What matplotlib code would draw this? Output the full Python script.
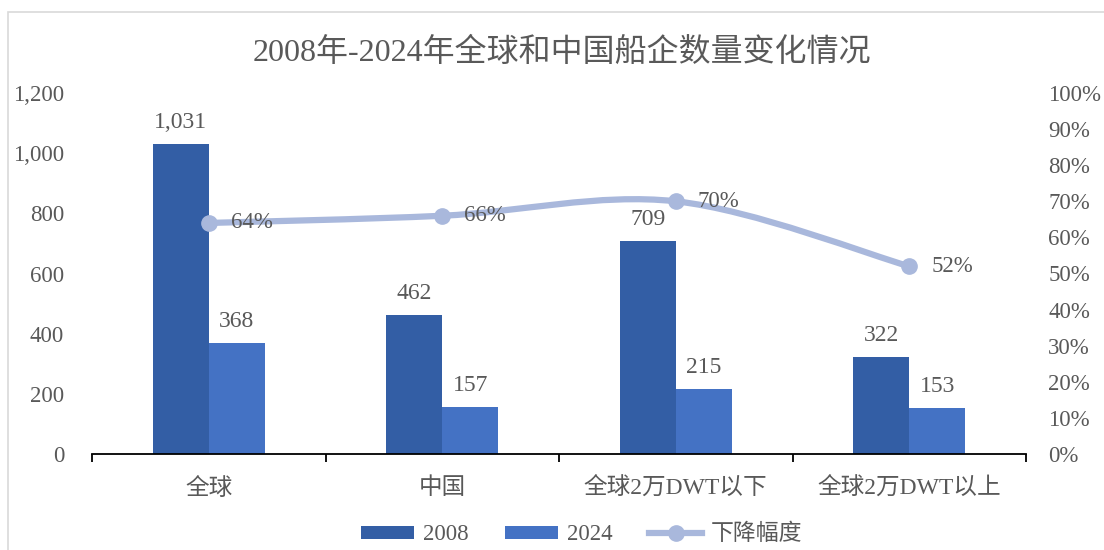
import matplotlib
matplotlib.use("Agg")
import matplotlib.pyplot as plt
from matplotlib.path import Path
from matplotlib.patches import PathPatch, Rectangle
from matplotlib.lines import Line2D
from matplotlib.ticker import FuncFormatter, MultipleLocator, FixedLocator
import numpy as np

plt.rcParams['font.family'] = ['Liberation Serif', 'Noto Sans CJK SC', 'DejaVu Sans']

categories = ["全球", "中国", "全球2万DWT以下", "全球2万DWT以上"]
count_2008 = [1031, 462, 709, 322]
count_2024 = [368, 157, 215, 153]
decline = [0.64, 0.66, 0.70, 0.52]

c2008 = '#335EA5'
c2024 = '#4472C4'
cline = '#A9B8DC'
txt = '#595959'

fig = plt.figure(figsize=(11.04, 5.5), dpi=100)
ax = fig.add_axes([92 / 1104, (550 - 454) / 550, 934 / 1104, 361 / 550])

# chart border (light gray, cut off at right/bottom)
fig.patches.append(Rectangle((8 / 1104, -0.1), 1.2, (550 - 12) / 550 + 0.1,
                             transform=fig.transFigure, fill=False,
                             edgecolor='#D9D9D9', linewidth=1.2))

x = np.arange(len(categories))
w = 0.24
b1 = ax.bar(x - w / 2, count_2008, w, color=c2008, label='2008', zorder=2)
b2 = ax.bar(x + w / 2, count_2024, w, color=c2024, label='2024', zorder=2)

for bars in (b1, b2):
    for bar in bars:
        ax.annotate(f'{bar.get_height():,.0f}',
                    (bar.get_x() + bar.get_width() / 2, bar.get_height()),
                    xytext=(0, 8), textcoords='offset points',
                    ha='center', va='bottom', fontsize=17, color=txt)

ax.set_xlim(-0.5, len(categories) - 0.5)
ax.set_ylim(0, 1200)
ax.yaxis.set_major_locator(MultipleLocator(200))
ax.yaxis.set_major_formatter(FuncFormatter(lambda v, p: f'{v:,.0f}'))
ax.set_xticks(x)
ax.set_xticklabels(categories, fontsize=17, color=txt)
ax.xaxis.set_minor_locator(FixedLocator(np.arange(-0.5, len(categories), 1.0)))
ax.tick_params(axis='x', which='major', length=0, pad=17)
ax.tick_params(axis='x', which='minor', length=6, width=1.3, color='black')
ax.tick_params(axis='y', length=0, labelsize=16.5, labelcolor=txt, pad=20)
for s in ('left', 'right', 'top'):
    ax.spines[s].set_visible(False)
ax.spines['bottom'].set_color('black')
ax.spines['bottom'].set_linewidth(1.3)

ax2 = ax.twinx()
ax2.set_ylim(0, 1.0)
ax2.yaxis.set_major_locator(MultipleLocator(0.1))
ax2.yaxis.set_major_formatter(FuncFormatter(lambda v, p: f'{v * 100:.0f}%'))
ax2.tick_params(axis='y', length=0, labelsize=16.5, labelcolor=txt, pad=16)
for s in ('left', 'right', 'top', 'bottom'):
    ax2.spines[s].set_visible(False)

# smoothed line (Bezier through the points, Excel-style)
pts = np.column_stack([x, decline]).astype(float)
verts = [pts[0]]
codes = [Path.MOVETO]
n = len(pts)
for i in range(n - 1):
    p0 = pts[i - 1] if i > 0 else pts[i]
    p1, p2 = pts[i], pts[i + 1]
    p3 = pts[i + 2] if i + 2 < n else pts[i + 1]
    verts += [p1 + (p2 - p0) / 6, p2 - (p3 - p1) / 6, p2]
    codes += [Path.CURVE4] * 3
ax2.add_patch(PathPatch(Path(verts, codes), facecolor='none', edgecolor=cline,
                        linewidth=4.5, capstyle='round', zorder=3))
ax2.plot(x, decline, 'o', color=cline, markersize=11, zorder=4)
for xi, v in zip(x, decline):
    ax2.annotate(f'{v * 100:.0f}%', (xi, v), xytext=(16, 0), textcoords='offset points',
                 ha='left', va='center', fontsize=16.5, color=txt, zorder=5)

fig.text(0.509, 0.905, '2008年-2024年全球和中国船企数量变化情况', ha='center', va='center',
         fontsize=23, color=txt)

handles = [b1, b2, Line2D([], [], color=cline, linewidth=4.5, marker='o', markersize=11)]
fig.legend(handles, ['2008', '2024', '下降幅度'], loc='center', bbox_to_anchor=(0.527, 0.028),
           ncol=3, frameon=False, fontsize=16.5, labelcolor=txt, handlelength=2.3,
           handleheight=0.5, columnspacing=1.6, handletextpad=0.4)

fig.savefig('out.png', dpi=100)
